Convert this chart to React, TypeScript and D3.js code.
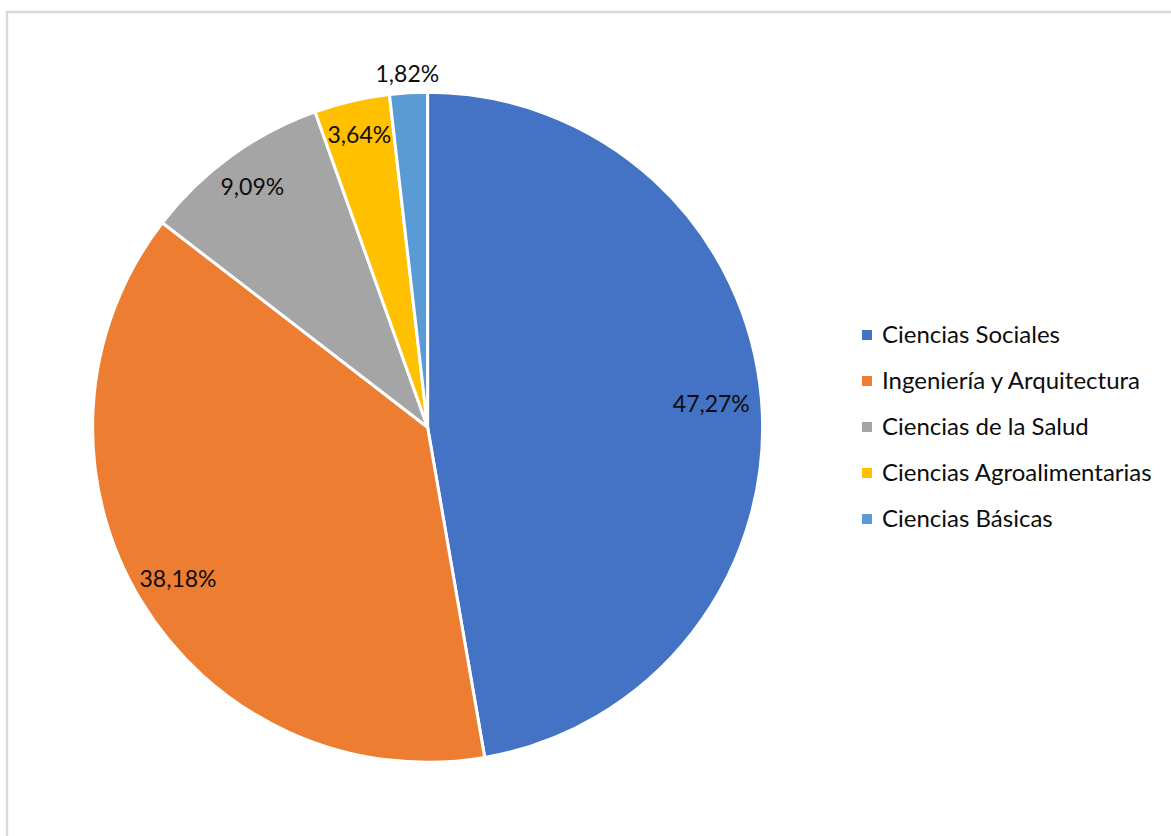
import React from "react";
import * as d3 from "d3";

const categories = [
  "Ciencias Sociales",
  "Ingeniería y Arquitectura",
  "Ciencias de la Salud",
  "Ciencias Agroalimentarias",
  "Ciencias Básicas",
];
const values = [26, 21, 5, 2, 1];
const labels = ["47,27%", "38,18%", "9,09%", "3,64%", "1,82%"];
const colors = ["#4472C4", "#ED7D31", "#A5A5A5", "#FFC000", "#5B9BD5"];

const W = 1171;
const H = 836;
const CX = 427.6;
const CY = 427.3;
const R = 335;
const labelRadiusFactor = [0.85, 0.87, 0.89, 0.9, 1.06];
const FONT = "Lato, 'Open Sans', sans-serif";

export default function App() {
  const pie = d3
    .pie<number>()
    .sort(null)
    .value((d) => d);
  const arcs = pie(values);
  const arc = d3.arc<d3.PieArcDatum<number>>().innerRadius(0).outerRadius(R);

  return (
    <svg
      width={W}
      height={H}
      style={{ position: "absolute", left: 0, top: 0, background: "#fff" }}
    >
      <rect x={0} y={0} width={W} height={H} fill="#fff" />
      <rect
        x={7}
        y={12}
        width={W + 20}
        height={H + 20}
        fill="none"
        stroke="#d9d9d9"
        strokeWidth={2.5}
      />
      <g transform={`translate(${CX},${CY})`}>
        {arcs.map((a, i) => (
          <path
            key={i}
            d={arc(a) || ""}
            fill={colors[i]}
            stroke="#fff"
            strokeWidth={3}
            strokeLinejoin="round"
          />
        ))}
        {arcs.map((a, i) => {
          const lr = R * labelRadiusFactor[i];
          const [x, y] = d3
            .arc<d3.PieArcDatum<number>>()
            .innerRadius(lr)
            .outerRadius(lr)
            .centroid(a);
          return (
            <text
              key={i}
              x={x}
              y={y}
              textAnchor="middle"
              dominantBaseline="central"
              fontFamily={FONT}
              fontSize={23}
              fill="#0d0d0d"
            >
              {labels[i]}
            </text>
          );
        })}
      </g>
      <g transform="translate(862,330)">
        {categories.map((c, i) => (
          <g key={c} transform={`translate(0,${i * 46})`}>
            <rect x={0} y={0} width={10} height={10} fill={colors[i]} />
            <text
              x={20}
              y={12.5}
              fontFamily={FONT}
              fontSize={24}
              fill="#0d0d0d"
            >
              {c}
            </text>
          </g>
        ))}
      </g>
    </svg>
  );
}
